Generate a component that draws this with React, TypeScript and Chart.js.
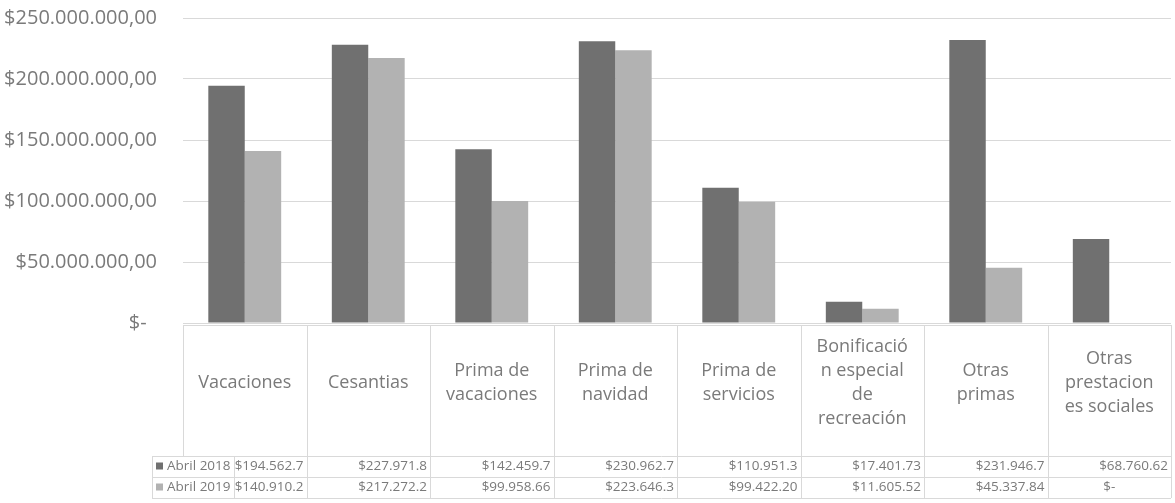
import React, { useEffect, useRef } from "react";
import { Chart, registerables } from "chart.js";

Chart.register(...registerables);

const categories: string[][] = [
  ["Vacaciones"],
  ["Cesantias"],
  ["Prima de", "vacaciones"],
  ["Prima de", "navidad"],
  ["Prima de", "servicios"],
  ["Bonificació", "n especial", "de", "recreación"],
  ["Otras", "primas"],
  ["Otras", "prestacion", "es sociales"],
];

const seriesNames = ["Abril 2018", "Abril 2019"];
const abril2018 = [194562700, 227971800, 142459700, 230962700, 110951300, 17401730, 231946700, 68760620];
const abril2019 = [140910200, 217272200, 99958660, 223646300, 99422200, 11605520, 45337840, 0];
const yTicks = [0, 50000000, 100000000, 150000000, 200000000, 250000000];

const DARK = "#707070";
const LIGHT = "#b2b2b2";
const TEXT = "#7a7a7a";
const LINE = "#d9d9d9";
const FONT = "'Open Sans', sans-serif";

function money(v: number): string {
  if (v === 0) return "$-";
  const s = Math.round(v).toString().replace(/\B(?=(\d{3})+(?!\d))/g, ".");
  return "$" + s + ",00";
}

function cellText(v: number): string {
  if (v === 0) return "$-";
  return money(v).slice(0, 10);
}

const tablePlugin = {
  id: "dataTable",
  afterDraw(chart: any) {
    const { ctx, chartArea } = chart;
    const n = categories.length;
    const left = chartArea.left;
    const right = chartArea.right;
    const w = (right - left) / n;
    const top = chartArea.bottom + 2;
    const headerH = 131;
    const rowH = 21;
    const legendLeft = 152;
    const legendRight = 234;
    const rows = [abril2018, abril2019];
    const colors = [DARK, LIGHT];
    ctx.save();
    ctx.strokeStyle = LINE;
    ctx.lineWidth = 1;
    const hl = (x1: number, x2: number, y: number) => {
      ctx.beginPath();
      ctx.moveTo(x1, Math.round(y) + 0.5);
      ctx.lineTo(x2, Math.round(y) + 0.5);
      ctx.stroke();
    };
    const vl = (x: number, y1: number, y2: number) => {
      ctx.beginPath();
      ctx.moveTo(Math.round(x) + 0.5, y1);
      ctx.lineTo(Math.round(x) + 0.5, y2);
      ctx.stroke();
    };
    const tableBottom = top + headerH + 2 * rowH;
    hl(left, right, top);
    hl(legendLeft, right, top + headerH);
    hl(legendLeft, right, top + headerH + rowH);
    hl(legendLeft, right, tableBottom);
    vl(left, top, top + headerH);
    for (let i = 1; i <= n; i++) {
      vl(left + i * w, top, tableBottom);
    }
    vl(legendLeft, top + headerH, tableBottom);
    vl(legendRight, top + headerH, tableBottom);

    ctx.fillStyle = TEXT;
    ctx.textBaseline = "middle";
    ctx.textAlign = "center";
    ctx.font = "18px " + FONT;
    const lh = 24;
    categories.forEach((lines, i) => {
      const cx = left + (i + 0.5) * w;
      const cy = top + 58;
      const y0 = cy - ((lines.length - 1) * lh) / 2;
      lines.forEach((t, k) => ctx.fillText(t, cx, y0 + k * lh));
    });

    ctx.font = "13.5px " + FONT;
    rows.forEach((vals, r) => {
      const cy = top + headerH + r * rowH + rowH / 2;
      ctx.fillStyle = colors[r];
      ctx.fillRect(legendLeft + 4, cy - 4, 7, 7);
      ctx.fillStyle = TEXT;
      ctx.textAlign = "left";
      ctx.fillText(seriesNames[r], legendLeft + 15, cy);
      vals.forEach((v, i) => {
        const t = cellText(v);
        if (v === 0) {
          ctx.textAlign = "center";
          ctx.fillText(t, left + (i + 0.5) * w, cy);
        } else {
          ctx.textAlign = "right";
          ctx.fillText(t, left + (i + 1) * w - 3, cy);
        }
      });
    });
    ctx.restore();
  },
};

export default function App() {
  const ref = useRef<HTMLCanvasElement>(null);
  useEffect(() => {
    if (!ref.current) return;
    const chart = new Chart(ref.current, {
      type: "bar",
      data: {
        labels: categories.map((c) => c.join(" ")),
        datasets: [
          { label: seriesNames[0], data: abril2018, backgroundColor: DARK },
          { label: seriesNames[1], data: abril2019, backgroundColor: LIGHT },
        ],
      },
      options: {
        animation: false,
        responsive: true,
        maintainAspectRatio: false,
        layout: { padding: { top: 18, bottom: 180, right: 4, left: 0 } },
        plugins: { legend: { display: false }, tooltip: { enabled: false } },
        datasets: { bar: { categoryPercentage: 0.59, barPercentage: 1.0 } },
        scales: {
          x: { display: false },
          y: {
            min: 0,
            max: 250000000,
            afterFit: (s: any) => {
              s.width = 183;
              s.paddingTop = 0;
              s.paddingBottom = 0;
            },
            afterBuildTicks: (s: any) => {
              s.ticks = yTicks.map((v) => ({ value: v }));
            },
            border: { display: false },
            grid: { color: LINE, drawTicks: false },
            ticks: {
              padding: 26,
              color: TEXT,
              font: { family: FONT, size: 20 },
              callback: (v: any) => (Number(v) === 0 ? "$-  " : money(Number(v))),
            },
          },
        },
      },
      plugins: [tablePlugin],
    });
    return () => chart.destroy();
  }, []);
  return (
    <div style={{ position: "absolute", left: 0, top: 0, width: 1175, height: 503, background: "#fff" }}>
      <canvas ref={ref} />
    </div>
  );
}
